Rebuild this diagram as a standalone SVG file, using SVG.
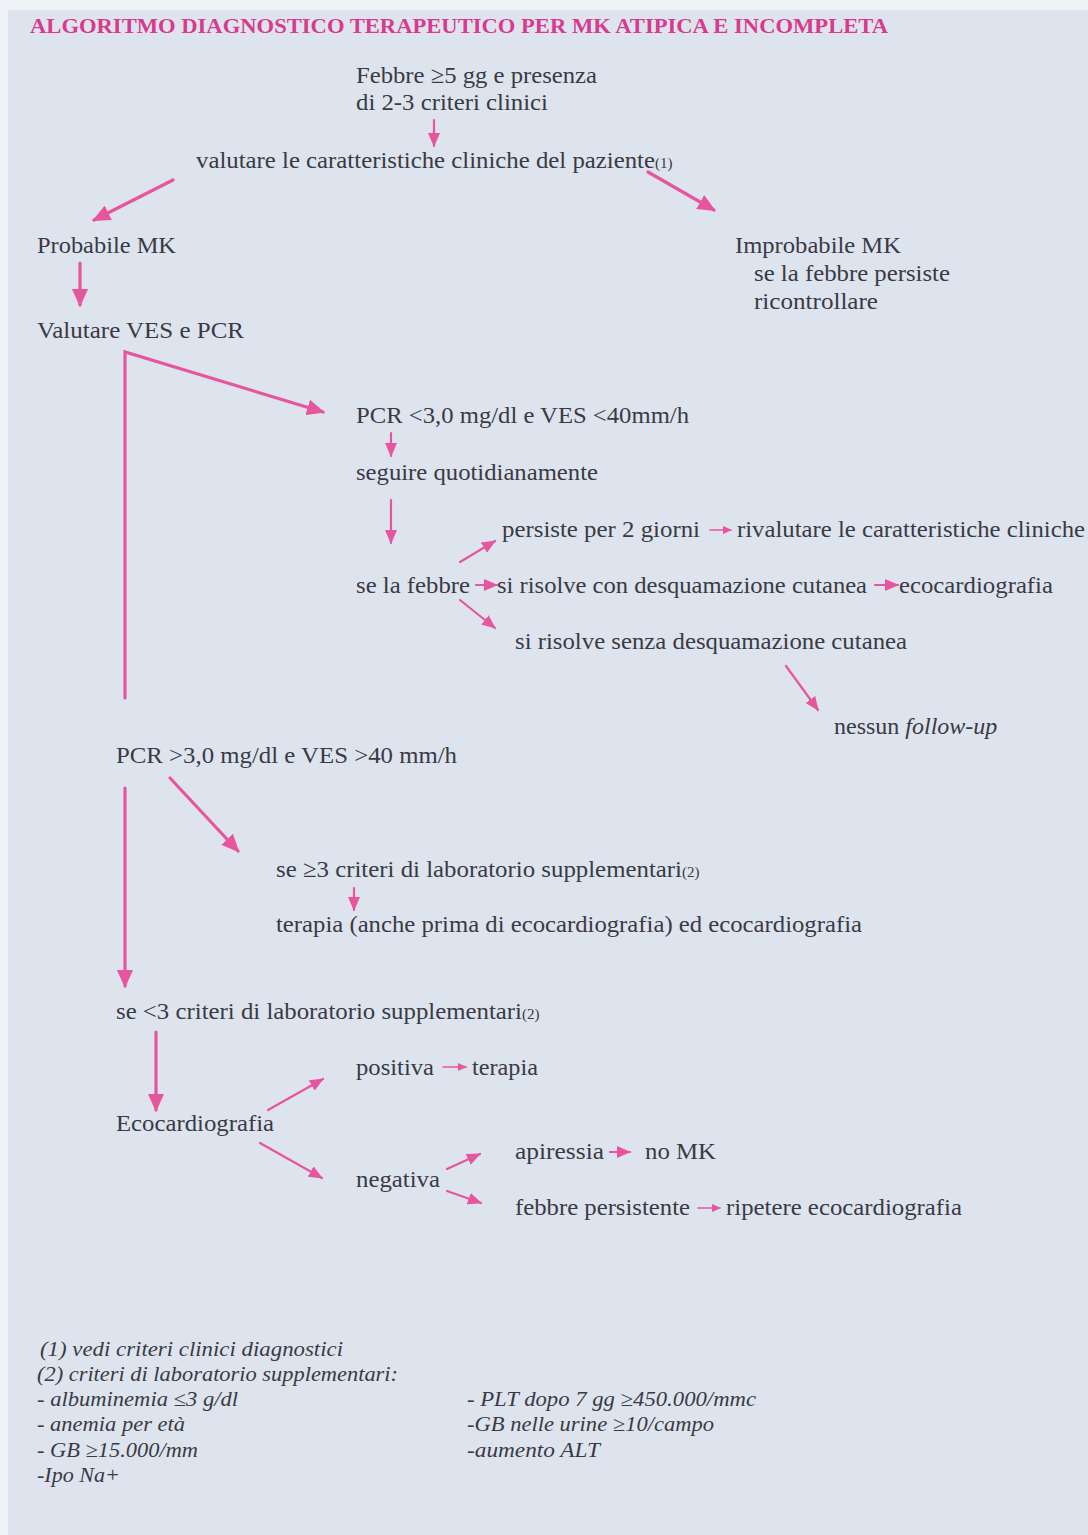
<svg xmlns="http://www.w3.org/2000/svg" width="1088" height="1535" viewBox="0 0 1088 1535">
<style>
.t{font-family:"Liberation Serif","Times New Roman",serif;font-size:24px;fill:#3a3a44}
.f{font-family:"Liberation Serif","Times New Roman",serif;font-size:21px;font-style:italic;fill:#3a3a44}
.sub{font-size:15px}
.title{font-family:"Liberation Serif","Times New Roman",serif;font-size:20px;font-weight:bold;fill:#d93a8e}
.c{stroke:#e6559e;fill:none;stroke-linecap:round}
.w3{stroke-width:3.2}
.w2{stroke-width:2.2}
.w1{stroke-width:1.6}
</style>
<defs>
<marker id="ah" markerUnits="userSpaceOnUse" markerWidth="20" markerHeight="16" refX="16" refY="8" orient="auto">
<path d="M0,0 L18,8 L0,16 Z" fill="#e6559e"/>
</marker>
<marker id="ahs" markerUnits="userSpaceOnUse" markerWidth="16" markerHeight="12" refX="13" refY="6" orient="auto">
<path d="M0,0 L14,6 L0,12 Z" fill="#e6559e"/>
</marker>
<marker id="aht" markerUnits="userSpaceOnUse" markerWidth="10" markerHeight="8" refX="8" refY="4" orient="auto">
<path d="M0,0 L9,4 L0,8 Z" fill="#e6559e"/>
</marker>
</defs>
<rect x="0" y="0" width="1088" height="1535" fill="#eef1f5"/>
<rect x="8" y="10" width="1080" height="1525" fill="#dde4ee"/>

<text class="title" x="30" y="33" textLength="858" lengthAdjust="spacingAndGlyphs">ALGORITMO DIAGNOSTICO TERAPEUTICO PER MK ATIPICA E INCOMPLETA</text>

<g id="connectors">
<line class="c w2" x1="434" y1="120" x2="434" y2="146" marker-end="url(#ahs)"/>
<line class="c w3" x1="173" y1="180" x2="94" y2="220" marker-end="url(#ah)"/>
<line class="c w3" x1="648" y1="172" x2="714" y2="210" marker-end="url(#ah)"/>
<line class="c w3" x1="80" y1="263" x2="80" y2="305" marker-end="url(#ah)"/>
<polyline class="c w3" points="125,698 125,352 323,412" marker-end="url(#ah)"/>
<line class="c w2" x1="391" y1="433" x2="391" y2="456" marker-end="url(#ahs)"/>
<line class="c w2" x1="391" y1="500" x2="391" y2="543" marker-end="url(#ahs)"/>
<line class="c w2" x1="460" y1="562" x2="495" y2="541" marker-end="url(#ahs)"/>
<line class="c w1" x1="710" y1="530" x2="731" y2="530" marker-end="url(#aht)"/>
<line class="c w2" x1="476" y1="585" x2="497" y2="585" marker-end="url(#ahs)"/>
<line class="c w2" x1="875" y1="585" x2="898" y2="585" marker-end="url(#ahs)"/>
<line class="c w2" x1="460" y1="600" x2="495" y2="628" marker-end="url(#ahs)"/>
<line class="c w2" x1="786" y1="666" x2="818" y2="710" marker-end="url(#ahs)"/>
<line class="c w3" x1="170" y1="778" x2="238" y2="851" marker-end="url(#ah)"/>
<line class="c w3" x1="125" y1="788" x2="125" y2="986" marker-end="url(#ah)"/>
<line class="c w2" x1="354" y1="888" x2="354" y2="910" marker-end="url(#ahs)"/>
<line class="c w3" x1="156" y1="1032" x2="156" y2="1110" marker-end="url(#ah)"/>
<line class="c w2" x1="268" y1="1110" x2="323" y2="1079" marker-end="url(#ahs)"/>
<line class="c w1" x1="443" y1="1067" x2="466" y2="1067" marker-end="url(#aht)"/>
<line class="c w2" x1="260" y1="1143" x2="322" y2="1178" marker-end="url(#ahs)"/>
<line class="c w2" x1="447" y1="1169" x2="480" y2="1154" marker-end="url(#ahs)"/>
<line class="c w2" x1="447" y1="1191" x2="481" y2="1203" marker-end="url(#ahs)"/>
<line class="c w2" x1="610" y1="1152" x2="630" y2="1152" marker-end="url(#ahs)"/>
<line class="c w1" x1="698" y1="1208" x2="720" y2="1208" marker-end="url(#aht)"/>
</g>

<g id="n-febbre">
<text class="t" x="356" y="83" textLength="241" lengthAdjust="spacingAndGlyphs">Febbre ≥5 gg e presenza</text>
<text class="t" x="356" y="110" textLength="192" lengthAdjust="spacingAndGlyphs">di 2-3 criteri clinici</text>
</g>
<g id="n-valutare">
<text class="t" x="196" y="168" textLength="459" lengthAdjust="spacingAndGlyphs">valutare le caratteristiche cliniche del paziente</text>
<text class="t sub" x="655" y="168">(1)</text>
</g>
<g id="n-probabile"><text class="t" x="37" y="253" textLength="139" lengthAdjust="spacingAndGlyphs">Probabile MK</text></g>
<g id="n-improbabile">
<text class="t" x="735" y="253" textLength="166" lengthAdjust="spacingAndGlyphs">Improbabile MK</text>
<text class="t" x="754" y="281" textLength="196" lengthAdjust="spacingAndGlyphs">se la febbre persiste</text>
<text class="t" x="754" y="309" textLength="124" lengthAdjust="spacingAndGlyphs">ricontrollare</text>
</g>
<g id="n-ves"><text class="t" x="37" y="338" textLength="207" lengthAdjust="spacingAndGlyphs">Valutare VES e PCR</text></g>
<g id="n-pcr-low"><text class="t" x="356" y="423" textLength="333" lengthAdjust="spacingAndGlyphs">PCR &lt;3,0 mg/dl e VES &lt;40mm/h</text></g>
<g id="n-seguire"><text class="t" x="356" y="480" textLength="242" lengthAdjust="spacingAndGlyphs">seguire quotidianamente</text></g>
<g id="n-persiste">
<text class="t" x="502" y="537" textLength="198" lengthAdjust="spacingAndGlyphs">persiste per 2 giorni</text>
<text class="t" x="737" y="537" textLength="348" lengthAdjust="spacingAndGlyphs">rivalutare le caratteristiche cliniche</text>
</g>
<g id="n-selafebbre"><text class="t" x="356" y="593" textLength="114" lengthAdjust="spacingAndGlyphs">se la febbre</text></g>
<g id="n-conDesq">
<text class="t" x="497" y="593" textLength="370" lengthAdjust="spacingAndGlyphs">si risolve con desquamazione cutanea</text>
<text class="t" x="899" y="593" textLength="154" lengthAdjust="spacingAndGlyphs">ecocardiografia</text>
</g>
<g id="n-senzaDesq"><text class="t" x="515" y="649" textLength="392" lengthAdjust="spacingAndGlyphs">si risolve senza desquamazione cutanea</text></g>
<g id="n-nessun"><text class="t" x="834" y="734">nessun <tspan font-style="italic">follow-up</tspan></text></g>
<g id="n-pcr-high"><text class="t" x="116" y="763" textLength="341" lengthAdjust="spacingAndGlyphs">PCR &gt;3,0 mg/dl e VES &gt;40 mm/h</text></g>
<g id="n-ge3">
<text class="t" x="276" y="877" textLength="406" lengthAdjust="spacingAndGlyphs">se ≥3 criteri di laboratorio supplementari</text>
<text class="t sub" x="682" y="877">(2)</text>
</g>
<g id="n-terapia1"><text class="t" x="276" y="932" textLength="586" lengthAdjust="spacingAndGlyphs">terapia (anche prima di ecocardiografia) ed ecocardiografia</text></g>
<g id="n-lt3">
<text class="t" x="116" y="1019" textLength="406" lengthAdjust="spacingAndGlyphs">se &lt;3 criteri di laboratorio supplementari</text>
<text class="t sub" x="522" y="1019">(2)</text>
</g>
<g id="n-positiva">
<text class="t" x="356" y="1075" textLength="78" lengthAdjust="spacingAndGlyphs">positiva</text>
<text class="t" x="472" y="1075" textLength="66" lengthAdjust="spacingAndGlyphs">terapia</text>
</g>
<g id="n-eco"><text class="t" x="116" y="1131" textLength="158" lengthAdjust="spacingAndGlyphs">Ecocardiografia</text></g>
<g id="n-negativa"><text class="t" x="356" y="1187" textLength="84" lengthAdjust="spacingAndGlyphs">negativa</text></g>
<g id="n-apiressia">
<text class="t" x="515" y="1159" textLength="89" lengthAdjust="spacingAndGlyphs">apiressia</text>
<text class="t" x="645" y="1159" textLength="71" lengthAdjust="spacingAndGlyphs">no MK</text>
</g>
<g id="n-febpers">
<text class="t" x="515" y="1215" textLength="175" lengthAdjust="spacingAndGlyphs">febbre persistente</text>
<text class="t" x="726" y="1215" textLength="236" lengthAdjust="spacingAndGlyphs">ripetere ecocardiografia</text>
</g>

<g id="footnotes">
<text class="f" x="40" y="1356" textLength="303" lengthAdjust="spacingAndGlyphs">(1) vedi criteri clinici diagnostici</text>
<text class="f" x="37" y="1381" textLength="361" lengthAdjust="spacingAndGlyphs">(2) criteri di laboratorio supplementari:</text>
<text class="f" x="37" y="1406" textLength="201" lengthAdjust="spacingAndGlyphs">- albuminemia ≤3 g/dl</text>
<text class="f" x="37" y="1431" textLength="148" lengthAdjust="spacingAndGlyphs">- anemia per età</text>
<text class="f" x="37" y="1457" textLength="161" lengthAdjust="spacingAndGlyphs">- GB ≥15.000/mm</text>
<text class="f" x="37" y="1482" textLength="83" lengthAdjust="spacingAndGlyphs">-Ipo Na+</text>
<text class="f" x="467" y="1406" textLength="289" lengthAdjust="spacingAndGlyphs">- PLT dopo 7 gg ≥450.000/mmc</text>
<text class="f" x="467" y="1431" textLength="247" lengthAdjust="spacingAndGlyphs">-GB nelle urine ≥10/campo</text>
<text class="f" x="467" y="1457" textLength="133" lengthAdjust="spacingAndGlyphs">-aumento ALT</text>
</g>
</svg>
